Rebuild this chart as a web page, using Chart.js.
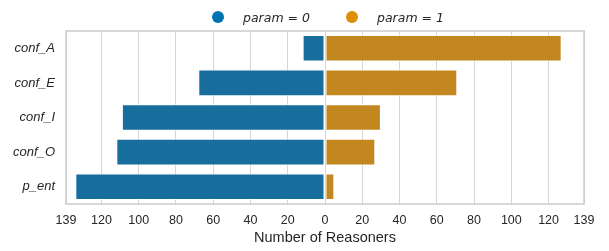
<!DOCTYPE html>
<html>
<head>
<meta charset="utf-8">
<script src="https://cdn.jsdelivr.net/npm/chart.js@4"></script>
<style>
  body { margin: 0; background: #fff; }
  #wrap { position: relative; width: 609px; height: 251px; }
  #legend {
    position: absolute; top: 7px; left: 0; width: 609px; height: 20px;
    font-family: "DejaVu Sans", sans-serif; font-style: italic; font-size: 12.5px; color: #262626;
  }
  .item { position: absolute; top: 0; display: flex; align-items: center; height: 20px; }
  .dot { width: 12px; height: 12px; border-radius: 50%; margin-right: 19px; }
</style>
</head>
<body>
<div id="wrap">
  <canvas id="chart" width="609" height="251"></canvas>
  <div id="legend"></div>
</div>
<script>
const categories = ["conf_A", "conf_E", "conf_I", "conf_O", "p_ent"];
const param0Counts = [12, 68, 109, 112, 134];
const param1Counts = [127, 71, 30, 27, 5];
const tickValues = [-139, -120, -100, -80, -60, -40, -20, 0, 20, 40, 60, 80, 100, 120, 139];
const seriesLabels = ["param = 0", "param = 1"];

const barColors = ["#176d9c", "#c3871f"];
const legendColors = ["#0173b2", "#de8f05"];

// legend drawn as html so spacing matches the seaborn one
const legendEl = document.getElementById("legend");
const legendX = [212, 346];
seriesLabels.forEach((label, i) => {
  const item = document.createElement("div");
  item.className = "item";
  item.style.left = legendX[i] + "px";
  item.innerHTML =
    '<span class="dot" style="background:' + legendColors[i] + '"></span><span>' + label + "</span>";
  legendEl.appendChild(item);
});

const frame = {
  id: "frame",
  afterDraw(chart) {
    const { ctx, chartArea } = chart;
    ctx.save();
    ctx.strokeStyle = "#cccccc";
    ctx.lineWidth = 1.5;
    ctx.strokeRect(chartArea.left, chartArea.top, chartArea.right - chartArea.left, chartArea.bottom - chartArea.top);
    ctx.restore();
  },
};

new Chart(document.getElementById("chart").getContext("2d"), {
  type: "bar",
  data: {
    labels: categories,
    datasets: [
      {
        label: seriesLabels[0],
        data: param0Counts.map((v) => -v),
        backgroundColor: barColors[0],
        borderColor: "rgba(255,255,255,0.7)",
        borderWidth: 1,
        borderSkipped: false,
      },
      {
        label: seriesLabels[1],
        data: param1Counts,
        backgroundColor: barColors[1],
        borderColor: "rgba(255,255,255,0.7)",
        borderWidth: 1,
        borderSkipped: false,
      },
    ],
  },
  options: {
    indexAxis: "y",
    responsive: false,
    animation: false,
    barPercentage: 0.77,
    categoryPercentage: 1,
    layout: { padding: { top: 31, right: 25, bottom: 4, left: 0 } },
    plugins: {
      legend: { display: false },
      tooltip: { enabled: false },
    },
    scales: {
      x: {
        stacked: true,
        min: -139,
        max: 139,
        afterBuildTicks: (scale) => {
          scale.ticks = tickValues.map((v) => ({ value: v }));
        },
        afterFit: (scale) => {
          scale.height = 43;
        },
        ticks: {
          autoSkip: false,
          maxRotation: 0,
          padding: 9,
          color: "#262626",
          font: { family: "Liberation Sans", size: 12.5 },
          callback: (value) => Math.abs(value),
        },
        grid: { color: "#d6d6d6", lineWidth: 1, drawTicks: false },
        border: { display: false },
        title: {
          display: true,
          text: "Number of Reasoners",
          color: "#262626",
          font: { family: "Liberation Sans", size: 14.5 },
          padding: { top: 0, bottom: 0 },
        },
      },
      y: {
        stacked: true,
        afterFit: (scale) => {
          scale.width = 66;
        },
        ticks: {
          padding: 11,
          color: "#262626",
          font: { family: "Liberation Sans", size: 13, style: "italic" },
        },
        grid: { display: false, drawTicks: false },
        border: { display: false },
      },
    },
  },
  plugins: [frame],
});
</script>
</body>
</html>
